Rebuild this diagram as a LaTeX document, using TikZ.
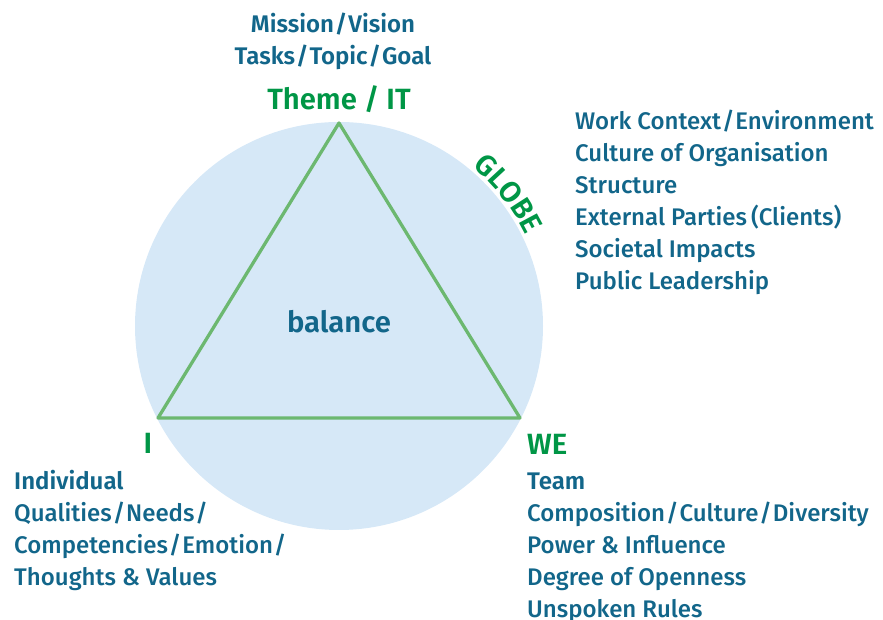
\documentclass[tikz,border=0pt]{standalone}
\usepackage{fontspec}
\setmainfont{Fira Sans}[UprightFont=* Medium, BoldFont=* SemiBold]
\usetikzlibrary{positioning, decorations.text}
\definecolor{textblue}{RGB}{18,102,138}
\definecolor{headgreen}{RGB}{0,150,70}
\definecolor{globefill}{RGB}{214,232,247}
\definecolor{edgegreen}{RGB}{108,184,112}
\newcommand\listsize{\fontsize{20.5}{27}\selectfont}
\newcommand\headsize{\fontsize{25}{30}\selectfont}
\newcommand\sep{\kern0.04em/\kern0.04em}

\begin{document}
\begin{tikzpicture}[x=0.03cm, y=0.03cm,
    listtext/.style={textblue, font=\listsize, inner sep=0pt, anchor=base west},
    listhead/.style={listtext, font=\listsize\bfseries},
    cornertext/.style={headgreen, font=\headsize\bfseries, inner sep=0pt}]
    \useasboundingbox (0,0) rectangle (883,620);

    % Globe with the triangle inside
    \coordinate (globe) at (339,294);
    \fill[globefill] (globe) circle (204);
    \coordinate (it) at (339,497);
    \coordinate (i) at (158,202);
    \coordinate (we) at (520,202);
    \draw[edgegreen, line width=2.8pt, line join=round] (it) -- (i) -- (we) -- cycle;
    \node[textblue, font=\headsize\bfseries, inner sep=0pt, anchor=base] (balance) at (339,287) {balance};

    % GLOBE along the rim
    \path[decorate, decoration={text along path, text align=center,
        text={|\headsize\bfseries\color{headgreen}|GLOBE}}]
        ([shift={(72:208)}]globe) arc[start angle=72, end angle=4, radius=208];

    % Theme / IT
    \node[cornertext, anchor=base] (theme) at (339,510) {Theme / IT};
    \node[listhead, anchor=base] (mission) at (333,587) {Mission\sep Vision};
    \node[listhead, anchor=base] (tasks) at (333,555) {Tasks\sep Topic\sep Goal};

    % Globe items
    \foreach \txt [count=\k from 0] in {Work Context\sep Environment, Culture of Organisation,
        Structure, External Parties\,(Clients), Societal Impacts, Public Leadership}
        \node[listtext] (globe-\k) at (575,490-32*\k) {\txt};

    % I
    \node[cornertext, anchor=base] (ilabel) at (148,166) {I};
    \node[listhead] (indiv) at (14,130) {Individual};
    \foreach \txt [count=\k from 1] in {Qualities\sep Needs\sep, Competencies\sep Emotion\sep,
        Thoughts \& Values}
        \node[listtext] (indiv-\k) at (14,130-32*\k) {\txt};

    % WE
    \node[cornertext, anchor=base west] (welabel) at (527,165) {WE};
    \node[listhead] (team) at (527,130) {Team};
    \foreach \txt [count=\k from 1] in {Composition\sep Culture\sep Diversity, Power \& Influence,
        Degree of Openness, Unspoken Rules}
        \node[listtext] (team-\k) at (527,130-32*\k) {\txt};
\end{tikzpicture}
\end{document}
